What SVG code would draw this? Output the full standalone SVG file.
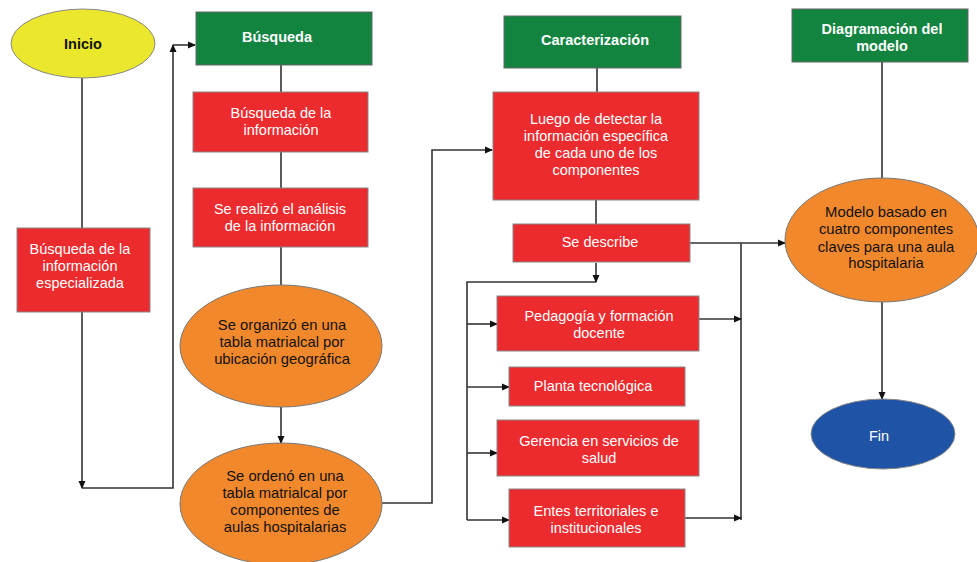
<svg xmlns="http://www.w3.org/2000/svg" width="977" height="562" viewBox="0 0 977 562">
<style>
.g{fill:#13843f;stroke:#666;stroke-width:1}
.r{fill:#ec2b2e;stroke:#888;stroke-width:1}
.o{fill:#f1882b;stroke:#777;stroke-width:1}
.ln{fill:none;stroke:#333;stroke-width:1.6}
text{font-family:"Liberation Sans",Arial,sans-serif;text-anchor:middle}
.hw{fill:#fff;font-weight:bold;font-size:14.5px}
.tw{fill:#fff;font-size:14.5px}
.tb{fill:#111;font-size:14.8px}
</style>
<defs>
<marker id="a" markerWidth="8" markerHeight="8" refX="7" refY="4" orient="auto" markerUnits="userSpaceOnUse">
<path d="M0,0.5 L8,4 L0,7.5 Z" fill="#111"/>
</marker>
</defs>
<rect width="977" height="562" fill="#fff"/>
<g id="connectors">
<path class="ln" d="M82,78 V228"/>
<path class="ln" d="M82,312 V488" marker-end="url(#a)"/>
<path class="ln" d="M82,488 H173 V45" marker-end="url(#a)"/>
<path class="ln" d="M173,45 H195" marker-end="url(#a)"/>
<path class="ln" d="M281,65 V92 M281,152 V188 M281,247 V286"/>
<path class="ln" d="M281,407 V443" marker-end="url(#a)"/>
<path class="ln" d="M382,503 H432 V150 H492" marker-end="url(#a)"/>
<path class="ln" d="M597,68 V92 M596,200 V224"/>
<path class="ln" d="M596,263 V282" marker-end="url(#a)"/>
<path class="ln" d="M596,282 H467 V520"/>
<path class="ln" d="M467,324 H497" marker-end="url(#a)"/>
<path class="ln" d="M467,387 H509" marker-end="url(#a)"/>
<path class="ln" d="M467,453 H497" marker-end="url(#a)"/>
<path class="ln" d="M467,520 H509" marker-end="url(#a)"/>
<path class="ln" d="M690,243 H785" marker-end="url(#a)"/>
<path class="ln" d="M741,243 V520"/>
<path class="ln" d="M699,319 H741" marker-end="url(#a)"/>
<path class="ln" d="M685,518 H741" marker-end="url(#a)"/>
<path class="ln" d="M882,62 V178"/>
<path class="ln" d="M882,302 V399" marker-end="url(#a)"/>
</g>
<g id="inicio">
<ellipse cx="83" cy="43.5" rx="72" ry="34.5" fill="#ebe72c" stroke="#888" stroke-width="1"/>
<text x="83" y="49" style="font-weight:bold;font-size:14.5px;fill:#111">Inicio</text>
</g>
<g id="busq-esp">
<rect class="r" x="17" y="228" width="133" height="84"/>
<text class="tw" x="80" y="254">Búsqueda de la</text>
<text class="tw" x="80" y="271">información</text>
<text class="tw" x="80" y="288">especializada</text>
</g>
<g id="busqueda">
<rect class="g" x="196" y="12" width="176" height="53"/>
<text class="hw" x="277" y="42">Búsqueda</text>
</g>
<g id="busq-info">
<rect class="r" x="193" y="92" width="175" height="60"/>
<text class="tw" x="281" y="118">Búsqueda de la</text>
<text class="tw" x="281" y="135">información</text>
</g>
<g id="analisis">
<rect class="r" x="193" y="188" width="175" height="59"/>
<text class="tw" x="280" y="214">Se realizó el análisis</text>
<text class="tw" x="280" y="231">de la información</text>
</g>
<g id="organizo">
<ellipse class="o" cx="281" cy="346" rx="101" ry="61"/>
<text class="tb" x="282" y="330">Se organizó en una</text>
<text class="tb" x="282" y="347">tabla matrialcal por</text>
<text class="tb" x="282" y="364">ubicación geográfica</text>
</g>
<g id="ordeno">
<ellipse class="o" cx="281" cy="504" rx="101" ry="61"/>
<text class="tb" x="285" y="481">Se ordenó en una</text>
<text class="tb" x="285" y="498">tabla matrialcal por</text>
<text class="tb" x="285" y="515">componentes de</text>
<text class="tb" x="285" y="532">aulas hospitalarias</text>
</g>
<g id="caracterizacion">
<rect class="g" x="504" y="16" width="177" height="52"/>
<text class="hw" x="595" y="45">Caracterización</text>
</g>
<g id="luego">
<rect class="r" x="493" y="92" width="206" height="108"/>
<text class="tw" x="596" y="124">Luego de detectar la</text>
<text class="tw" x="596" y="141">información específica</text>
<text class="tw" x="596" y="158">de cada uno de los</text>
<text class="tw" x="596" y="175">componentes</text>
</g>
<g id="describe">
<rect class="r" x="513" y="224" width="177" height="38"/>
<text class="tw" x="600" y="247">Se describe</text>
</g>
<g id="pedagogia">
<rect class="r" x="497" y="296" width="202" height="55"/>
<text class="tw" x="599" y="321">Pedagogía y formación</text>
<text class="tw" x="599" y="338">docente</text>
</g>
<g id="planta">
<rect class="r" x="509" y="367" width="176" height="39"/>
<text class="tw" x="593" y="391">Planta tecnológica</text>
</g>
<g id="gerencia">
<rect class="r" x="497" y="420" width="202" height="56"/>
<text class="tw" x="599" y="446">Gerencia en servicios de</text>
<text class="tw" x="599" y="463">salud</text>
</g>
<g id="entes">
<rect class="r" x="509" y="489" width="176" height="58"/>
<text class="tw" x="596" y="516">Entes territoriales e</text>
<text class="tw" x="596" y="533">institucionales</text>
</g>
<g id="diagramacion">
<rect class="g" x="792" y="9" width="176" height="53"/>
<text class="hw" x="882" y="34">Diagramación del</text>
<text class="hw" x="882" y="51">modelo</text>
</g>
<g id="modelo">
<ellipse class="o" cx="882" cy="240" rx="97" ry="62"/>
<text class="tb" x="886" y="217">Modelo basado en</text>
<text class="tb" x="886" y="234">cuatro componentes</text>
<text class="tb" x="886" y="252">claves para una aula</text>
<text class="tb" x="886" y="268">hospitalaria</text>
</g>
<g id="fin">
<ellipse cx="883" cy="434" rx="72" ry="35" fill="#1f53a5" stroke="#888" stroke-width="1"/>
<text class="tw" x="879" y="441">Fin</text>
</g>
</svg>
